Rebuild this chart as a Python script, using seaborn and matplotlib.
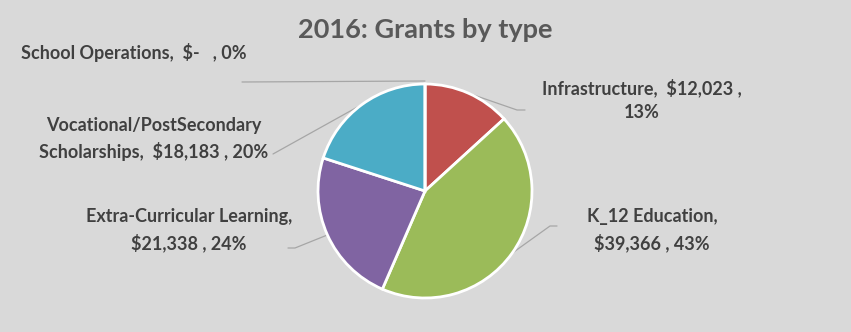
import numpy as np
import matplotlib
matplotlib.use("Agg")
import matplotlib.pyplot as plt
import seaborn as sns

categories = ["Infrastructure", "K_12 Education", "Extra-Curricular Learning",
              "Vocational/PostSecondary Scholarships", "School Operations"]
values = [12023, 39366, 21338, 18183, 0]
value_labels = ["$12,023", "$39,366", "$21,338", "$18,183", "$-  "]
pct_labels = [13, 43, 24, 20, 0]
colors = ["#C0504D", "#9BBB59", "#8064A2", "#4BACC6", "#F79646"]
title = "2016: Grants by type"

sns.set_theme(style="white")
plt.rcParams["font.family"] = ["Lato", "DejaVu Sans"]

W, H = 851, 332
fig = plt.figure(figsize=(W / 100, H / 100), dpi=100, facecolor="#D9D9D9")
ax = fig.add_axes([0, 0, 1, 1])
ax.set_facecolor("#D9D9D9")

cx, cy, r = 425, H - 191, 107
ax.pie(values, colors=colors, startangle=90, counterclock=False,
       center=(cx, cy), radius=r, frame=True,
       wedgeprops=dict(edgecolor="white", linewidth=2))
ax.set_xlim(0, W)
ax.set_ylim(0, H)
ax.set_aspect("equal")
ax.axis("off")

total = sum(values)

# label layout: (text lines, text center in px, leader elbow points in px)
layout = {
    "Infrastructure": (["Infrastructure,  {v} ,", "{p}%"], (642, 100), [(517, 110), (525, 110)]),
    "K_12 Education": (["K_12 Education,", "{v} , {p}%"], (652, 230), [(550, 226), (557, 226)]),
    "Extra-Curricular Learning": (["Extra-Curricular Learning,", "{v} , {p}%"], (189, 230), [(295, 248), (288, 248)]),
    "Vocational/PostSecondary Scholarships": (["Vocational/PostSecondary", "Scholarships,  {v} , {p}%"], (154, 139), [(273, 154)]),
    "School Operations": (["School Operations,  {v} , {p}%"], (134, 53), [(242, 82)]),
}

cum = 0
for cat, v, vl, p in zip(categories, values, value_labels, pct_labels):
    mid = (cum + v / 2) / total * 2 * np.pi
    cum += v
    lines, (tx, ty), elbows = layout[cat]
    text = "\n".join(l.format(v=vl, p=p) for l in lines)
    ax.text(tx, H - ty, text, ha="center", va="center", fontsize=13,
            fontweight="bold", color="#404040", linespacing=1.5)
    sx = cx + r * np.sin(mid)
    sy = cy + r * np.cos(mid)
    if v == 0:
        sy = cy + r + 3
    xs = [sx] + [e[0] for e in elbows]
    ys = [sy] + [H - e[1] for e in elbows]
    ax.plot(xs[::-1], ys[::-1], color="#A6A6A6", linewidth=0.9, zorder=0)

ax.text(425, H - 30, title, ha="center", va="center", fontsize=19.5,
        fontweight="bold", color="#595959")

fig.savefig("out.png", dpi=100, facecolor=fig.get_facecolor())
